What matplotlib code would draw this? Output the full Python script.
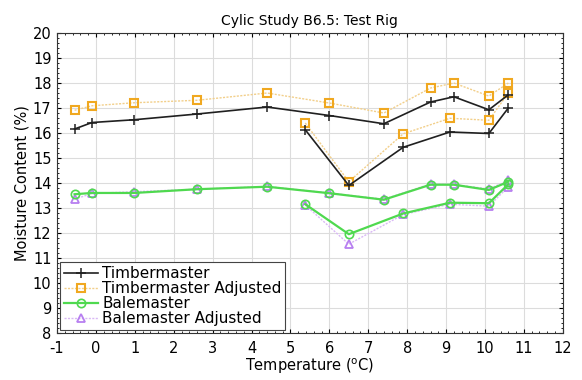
import numpy as np
import matplotlib
matplotlib.use("Agg")
import matplotlib.pyplot as plt
from matplotlib.ticker import AutoMinorLocator

plt.rcParams["axes.unicode_minus"] = False

# Two test runs per series (upper run, lower run)
temp_a = [-0.55, -0.1, 0.98, 2.6, 4.4, 6.0, 7.4, 8.6, 9.2, 10.1, 10.6]
temp_b = [5.38, 6.5, 7.9, 9.1, 10.1, 10.6]

timber_a = [16.16, 16.42, 16.53, 16.76, 17.04, 16.7, 16.37, 17.24, 17.45, 16.93, 17.53]
timber_b = [16.13, 13.9, 15.43, 16.04, 15.98, 17.0]

timber_adj_a = [16.91, 17.09, 17.21, 17.31, 17.6, 17.2, 16.8, 17.8, 18.0, 17.48, 18.0]
timber_adj_b = [16.4, 14.05, 15.97, 16.59, 16.51, 17.6]

bale_a = [13.55, 13.6, 13.6, 13.75, 13.85, 13.59, 13.33, 13.93, 13.93, 13.72, 14.05]
bale_b = [13.15, 11.95, 12.78, 13.21, 13.19, 13.95]

bale_adj_a = [13.35, 13.58, 13.65, 13.75, 13.86, 13.6, 13.35, 13.96, 13.94, 13.76, 14.1]
bale_adj_b = [13.12, 11.55, 12.74, 13.15, 13.07, 13.85]

x_ticks = list(range(-1, 13))
y_ticks = list(range(8, 21))

ORANGE = "#f0a820"
ORANGE_LINE = "#f2cf8a"
GREEN = "#4fd94f"
PURPLE = "#b77ff0"
PURPLE_LINE = "#d9b8f5"

fig = plt.figure(figsize=(5.82, 3.8), dpi=100)
ax = fig.add_axes([0.098, 0.124, 0.869, 0.789])

tim_kw = dict(color="#202020", lw=1.2, marker="+", ms=7, mew=1.1)
adj_kw = dict(color=ORANGE_LINE, lw=1.0, ls=(0, (1.5, 1)), marker="s", ms=6,
              mfc="none", mec=ORANGE, mew=1.5)
bal_kw = dict(color=GREEN, lw=1.6, marker="o", ms=6, mfc="none", mec=GREEN, mew=1.2)
bad_kw = dict(color=PURPLE_LINE, lw=1.0, ls=(0, (1.5, 1)), marker="^", ms=6,
              mfc="none", mec=PURPLE, mew=1.3)

ax.plot(temp_a, timber_adj_a, **adj_kw)
ax.plot(temp_b, timber_adj_b, **adj_kw)
ax.plot(temp_a, timber_a, label="Timbermaster", **tim_kw)
ax.plot(temp_b, timber_b, **tim_kw)
ax.plot([], [], label="Timbermaster Adjusted", **adj_kw)
ax.plot(temp_a, bale_adj_a, **bad_kw)
ax.plot(temp_b, bale_adj_b, **bad_kw)
ax.plot(temp_a, bale_a, label="Balemaster", **bal_kw)
ax.plot(temp_b, bale_b, **bal_kw)
ax.plot([], [], label="Balemaster Adjusted", **bad_kw)

ax.set_xlim(-1, 12)
ax.set_ylim(8, 20)
ax.set_xticks(x_ticks)
ax.set_yticks(y_ticks)
ax.xaxis.set_minor_locator(AutoMinorLocator(5))
ax.yaxis.set_minor_locator(AutoMinorLocator(5))
ax.tick_params(which="both", direction="in", top=True, right=True, labelsize=10.5)
ax.tick_params(which="major", length=3)
ax.tick_params(which="minor", length=1.5)
ax.tick_params(axis="x", pad=6)
ax.tick_params(axis="y", pad=4)
ax.grid(True, which="major", color="#dcdcdc", lw=0.8)
ax.set_axisbelow(True)
for s in ax.spines.values():
    s.set_color("#333333")

ax.set_title("Cylic Study B6.5: Test Rig", fontsize=10)
ax.set_xlabel("Temperature ($^{\\rm o}$C)", fontsize=10.5, labelpad=0)
ax.set_ylabel("Moisture Content (%)", fontsize=10.5, labelpad=2)

leg = ax.legend(loc="lower left", fontsize=11, fancybox=False, framealpha=1,
                edgecolor="#444444", borderaxespad=0.2, labelspacing=0.0,
                borderpad=0.25, handlelength=2.2, handletextpad=0.3)
leg.get_frame().set_linewidth(0.8)

fig.savefig("out.png", dpi=100)
